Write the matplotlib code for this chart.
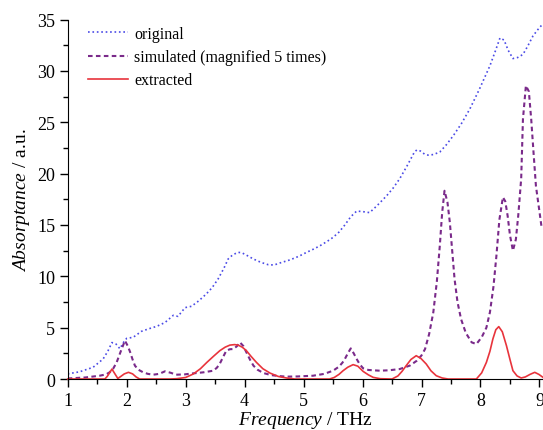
import matplotlib
matplotlib.use("Agg")
from matplotlib import pyplot as plt
from matplotlib.ticker import MultipleLocator

plt.rcParams['font.family'] = ['Liberation Serif', 'DejaVu Serif']
plt.rcParams['mathtext.fontset'] = 'custom'
plt.rcParams['mathtext.rm'] = 'Liberation Serif'
plt.rcParams['mathtext.it'] = 'Liberation Serif:italic'

# original absorptance
orig_x = [1.0, 1.2, 1.43, 1.6, 1.68, 1.75, 1.82, 1.885, 1.95, 2.0, 2.11, 2.25, 2.38, 2.51,
          2.65, 2.73, 2.79, 2.87, 2.99, 3.1, 3.22, 3.35, 3.45, 3.55, 3.65, 3.72, 3.8,
          3.89, 3.95, 4.05, 4.15, 4.28, 4.4, 4.5, 4.6, 4.77, 4.92, 5.05, 5.17, 5.28,
          5.4, 5.5, 5.6, 5.7, 5.8, 5.9, 6.0, 6.12, 6.25, 6.41, 6.52, 6.63, 6.75, 6.88,
          6.92, 6.98, 7.05, 7.11, 7.2, 7.31, 7.42, 7.54, 7.68, 7.82, 7.98, 8.16, 8.25,
          8.33, 8.4, 8.47, 8.55, 8.63, 8.72, 8.8, 8.89, 8.97, 9.06]
orig_y = [0.5, 0.7, 1.14, 1.95, 2.7, 3.55, 3.4, 2.95, 3.6, 3.96, 4.06, 4.64, 4.9, 5.13,
          5.5, 5.9, 6.2, 6.1, 6.95, 7.08, 7.6, 8.28, 8.9, 9.74, 10.8, 11.68, 12.1,
          12.33, 12.3, 12.0, 11.68, 11.35, 11.13, 11.1, 11.3, 11.6, 11.95, 12.33, 12.65, 12.98,
          13.4, 13.79, 14.3, 15.0, 15.8, 16.35, 16.3, 16.2, 16.9, 17.85, 18.6, 19.5, 20.7, 22.1,
          22.3, 22.2, 21.9, 21.8, 21.85, 22.1, 22.8, 23.7, 24.9, 26.3, 28.2, 30.5, 31.9,
          33.2, 33.0, 32.0, 31.2, 31.3, 31.6, 32.4, 33.4, 34.0, 34.6]

# simulated absorptance, magnified 5 times
sim_x = [1.0, 1.3, 1.54, 1.65, 1.71, 1.77, 1.83, 1.9, 1.97, 2.02, 2.06, 2.1, 2.14, 2.2,
         2.28, 2.36, 2.45, 2.55, 2.65, 2.75, 2.84, 2.98, 3.13, 3.3, 3.47, 3.53, 3.58, 3.64,
         3.69, 3.75, 3.81, 3.87, 3.92, 3.98, 4.03, 4.09, 4.15, 4.22, 4.32, 4.45, 4.6, 4.71,
         4.9, 5.16, 5.35, 5.5, 5.6, 5.66, 5.7, 5.75, 5.8, 5.85, 5.9, 5.95, 6.01, 6.1, 6.29,
         6.45, 6.63, 6.8, 6.92, 7.0, 7.06, 7.13, 7.2, 7.26, 7.31, 7.35, 7.39, 7.44, 7.48,
         7.52, 7.56, 7.61, 7.67, 7.75, 7.85, 7.93, 8.02, 8.1, 8.16, 8.22, 8.27, 8.32, 8.38,
         8.42, 8.46, 8.5, 8.55, 8.6, 8.64, 8.69, 8.72, 8.77, 8.82, 8.86, 8.9, 8.94, 9.0, 9.04]
sim_y = [0.05, 0.15, 0.32, 0.45, 0.65, 1.0, 1.62, 2.7, 3.73, 3.2, 2.6, 1.9, 1.3, 0.9,
         0.65, 0.5, 0.42, 0.5, 0.75, 0.6, 0.42, 0.45, 0.55, 0.65, 0.81, 1.1, 1.5, 2.2,
         2.76, 2.9, 2.92, 3.2, 3.57, 3.2, 2.6, 1.9, 1.3, 0.9, 0.58, 0.38, 0.28, 0.23,
         0.25, 0.32, 0.5, 0.81, 1.2, 1.6, 1.95, 2.5, 2.98, 2.5, 1.95, 1.45, 1.04, 0.88, 0.81,
         0.85, 0.97, 1.3, 1.78, 2.3, 2.92, 4.4, 6.5, 9.5, 12.98, 16.2, 18.33, 17.2, 15.26,
         12.5, 9.74, 7.5, 5.84, 4.5, 3.57, 3.4, 4.06, 5.0, 6.5, 9.0, 12.0, 15.5, 17.7,
         17.3, 15.9, 14.0, 12.5, 13.6, 15.9, 19.5, 25.3, 28.56, 28.0, 25.3, 22.0, 18.8, 16.3, 14.6]

# extracted absorptance
ext_x = [1.0, 1.63, 1.67, 1.71, 1.75, 1.79, 1.85, 1.9, 1.96, 2.03, 2.1, 2.16, 2.22, 2.73,
         2.85, 3.0, 3.13, 3.25, 3.36, 3.47, 3.58, 3.67, 3.75, 3.83, 3.89, 3.96, 4.03, 4.11,
         4.2, 4.31, 4.43, 4.57, 4.71, 4.85, 5.44, 5.52, 5.6, 5.67, 5.75, 5.84, 5.92, 6.01,
         6.1, 6.18, 6.3, 6.5, 6.6, 6.67, 6.74, 6.82, 6.91, 6.99, 7.08, 7.16, 7.25, 7.35,
         7.45, 7.93, 8.02, 8.1, 8.16, 8.21, 8.26, 8.31, 8.37, 8.44, 8.5, 8.55, 8.62, 8.69,
         8.76, 8.84, 8.92, 8.99, 9.06]
ext_y = [0.0, 0.0, 0.25, 0.6, 0.97, 0.6, 0.05, 0.25, 0.5, 0.65, 0.5, 0.2, 0.0, 0.0,
         0.03, 0.15, 0.49, 1.0, 1.62, 2.2, 2.76, 3.1, 3.3, 3.35, 3.3, 3.1, 2.76, 2.2,
         1.62, 1.0, 0.58, 0.25, 0.1, 0.0, 0.0, 0.15, 0.45, 0.81, 1.15, 1.4, 1.25, 0.74,
         0.4, 0.16, 0.03, 0.0, 0.3, 0.75, 1.3, 1.9, 2.27, 2.0, 1.46, 0.8, 0.32, 0.1,
         0.0, 0.0, 0.6, 1.62, 2.7, 3.9, 4.8, 5.1, 4.6, 3.25, 1.9, 0.81, 0.3, 0.1,
         0.2, 0.45, 0.65, 0.45, 0.16]

fig = plt.figure(figsize=(5.43, 4.31), dpi=100)
ax = fig.add_axes([0.1247, 0.1183, 1.0 - 0.1247, 0.9524 - 0.1183])

ax.plot(orig_x, orig_y, linestyle=':', color='#4a4ae6', linewidth=1.2, label='original')
ax.plot(sim_x, sim_y, linestyle=(0, (2.2, 1.6)), color='#7a2a8a', linewidth=1.5,
        label='simulated (magnified 5 times)')
ax.plot(ext_x, ext_y, linestyle='-', color='#e8343c', linewidth=1.2, label='extracted',
        clip_on=False)

ax.set_xlim(1, 9.06)
ax.set_ylim(0, 35)
ax.xaxis.set_major_locator(MultipleLocator(1))
ax.xaxis.set_minor_locator(MultipleLocator(0.5))
ax.yaxis.set_major_locator(MultipleLocator(5))
ax.yaxis.set_minor_locator(MultipleLocator(2.5))
ax.tick_params(which='major', direction='out', length=6, width=1, labelsize=13, pad=3)
ax.tick_params(which='minor', direction='out', length=3.5, width=1)
ax.spines['top'].set_visible(False)
ax.spines['right'].set_visible(False)

ax.set_xlabel(r'$\it{Frequency}$ / THz', fontsize=14, labelpad=0)
ax.set_ylabel(r'$\it{Absorptance}$ / a.u.', fontsize=14, labelpad=4)

ax.legend(loc='upper left', bbox_to_anchor=(0.012, 1.022), frameon=False, fontsize=11.5,
          handlelength=2.5, handletextpad=0.4, labelspacing=0.45)

fig.savefig('out.png', dpi=100)
